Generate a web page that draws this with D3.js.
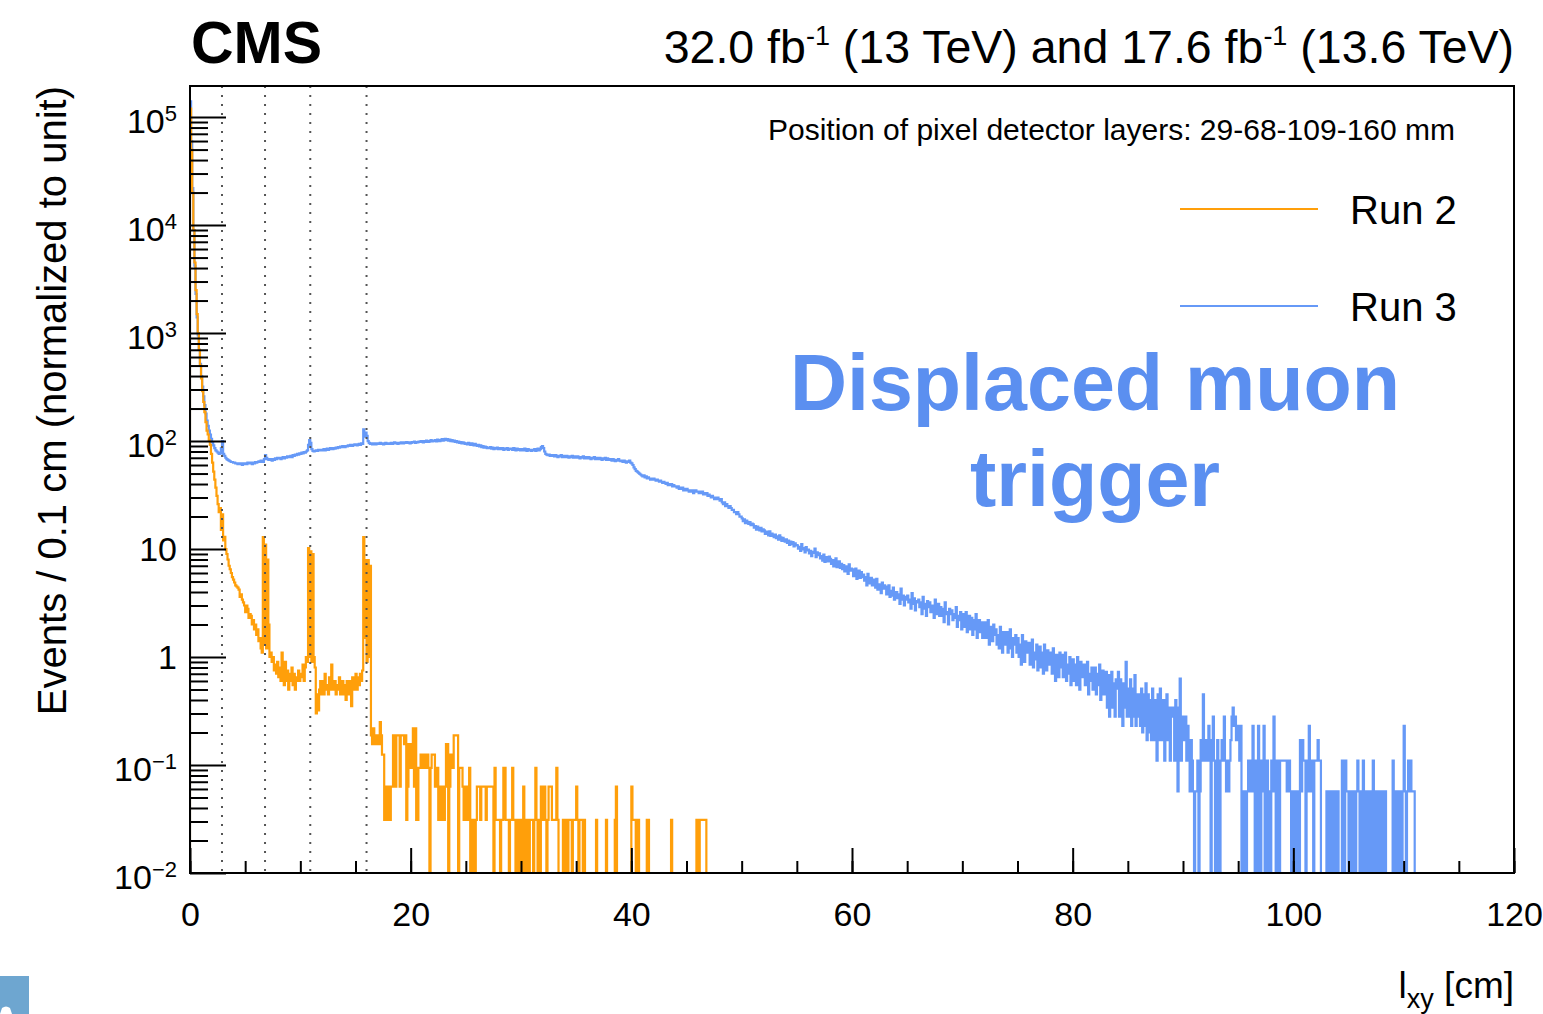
<html>
<head>
<meta charset="utf-8">
<script src="https://cdnjs.cloudflare.com/ajax/libs/d3/7.8.5/d3.min.js"></script>
<style>
    body { margin: 0; background: #fff; }
    text { font-family: "Liberation Sans", Arial, Helvetica, sans-serif; }
</style>
</head>
<body>
<svg width="1543" height="1014"></svg>
<script>
// histogram contents, 0.1 cm bins starting at 0 cm
const binWidth = 0.1;

const run2Values = [
    120000,50000,20000,9000,4500,2500,1500,1000,700,500,
    380,290,230,185,150,125,115,102,92,76,
    63,52,44,37,31,26,22,24,15,21,
    12,13,10,9,8,7,6.5,6,5.5,5.2,
    4.9,4.6,4.5,4.4,4.2,3.6,3.8,3.4,3.2,3.0,
    2.6,3.0,2.8,2.3,2.5,2.4,2.0,2.2,1.8,2.0,
    1.6,1.8,1.4,1.5,1.2,1.1,12.9,1.3,11,1.2,
    8,2,1,1.1,0.9,1,0.75,0.85,0.7,0.9,
    0.65,0.8,0.6,1.1,0.7,0.55,0.9,0.6,0.75,0.5,
    0.7,0.6,0.8,0.55,0.7,0.5,0.65,0.6,0.75,0.6,
    0.7,0.65,0.85,0.6,0.8,1,0.9,10.2,1,9.5,
    0.9,9,1,0.8,0.3,0.45,0.32,0.5,0.6,0.45,
    0.6,0.45,0.7,0.5,0.55,0.45,0.65,0.5,0.85,0.55,
    0.5,0.6,0.45,0.55,0.5,0.65,0.45,0.5,0.6,0.45,
    0.55,0.4,0.6,0.5,0.45,0.6,0.35,0.65,0.5,0.6,
    0.7,0.5,0.65,0.55,0.7,0.6,0.75,12.9,1.5,7.9,
    0.9,7.9,1,7,.188,.156,.219,.156,.188,.156,
    .188,.156,.25,.188,.125,.125,.031,.063,.031,.063,
    .063,.031,.063,.063,.188,.188,.063,.188,.188,.188,
    .063,.188,.188,.188,.156,.188,.031,.063,.156,.156,
    .094,.156,.219,.063,.219,.031,.031,.094,.094,.125,
    .125,.094,.125,.094,.094,.125,.094,0,.094,.125,
    .125,.125,.063,.063,.094,.031,.063,.063,.031,.063,
    .031,.063,.156,.156,0,.063,.125,.125,.094,.188,
    .188,.188,.188,0,.094,.094,.094,.063,.031,.063,
    .031,.063,.031,.094,0,.031,0,.031,0,.031,
    .063,.063,.063,.031,.063,.063,.063,.063,.031,.063,
    .063,.063,.063,.063,.063,0,.094,.031,.031,.031,
    .031,0,.031,.031,.094,.094,.031,.031,.031,0,
    .031,.031,.094,.031,.031,0,.031,.031,0,.031,
    0,0,.063,.031,0,.031,.031,0,.031,.031,
    .031,0,.031,.094,.031,0,.031,0,.063,.031,
    .063,.063,.031,0,.031,.063,.063,.063,.031,.031,
    .031,.031,.094,.031,0,0,0,0,.031,0,
    .031,.031,0,.031,.031,.031,0,.031,.031,.031,
    .063,.031,0,.031,.031,.031,0,.031,0,0,
    0,0,0,0,0,0,0,0,.031,0,
    0,0,0,0,0,0,0,.031,0,0,
    0,0,0,0,0,.031,.063,0,0,0,
    0,0,0,0,0,0,0,0,0,0,
    .063,.031,.031,.031,0,.031,.031,0,0,0,
    0,0,0,0,.031,.031,0,0,0,0,
    0,0,0,0,0,0,0,0,0,0,
    0,0,0,0,0,0,.031,0,0,0,
    0,0,0,0,0,0,0,0,0,0,
    0,0,0,0,0,0,0,0,0,.031,
    .031,0,.031,.031,.031,.031,.031,.031,0,0
];

const run3Values = [
    140000,60000,22000,9000,4200,2300,1400,950,700,520,
    400,320,260,215,180,155,138,125,115,105,
    97,91,86,82,80,78,76,77,86,100,
    76,73,70,68,67,66,65,64,64,63,
    63,62,62,61,62,61,62,60,62,61,
    62,61,63,62,62,63,61,63,62,64,
    63,64,65,64,66,65,64,68,74,70,
    68,67,67,68,66,68,67,69,68,70,
    69,70,68,70,71,69,71,70,72,71,
    72,73,71,74,73,75,74,76,75,77,
    76,78,77,79,78,80,82,92,102,96,
    84,81,80,81,82,81,83,82,83,82,
    83,84,82,84,85,83,84,86,85,84,
    86,85,87,86,88,87,89,88,90,89,
    88,90,89,91,90,92,91,90,92,93,
    92,91,93,94,92,95,94,128,110,120,
    112,100,96,94,95,93,94,95,93,94,
    95,94,96,95,94,93,95,96,94,95,
    94,95,96,94,95,97,95,96,94,96,
    95,97,96,95,97,96,98,96,97,95,
    96,98,97,99,96,98,97,99,98,100,
    99,97,100,98,101,99,98,100,102,99,
    101,100,102,99,103,101,100,102,104,101,
    103,105,102,104,101,103,100,102,99,101,
    98,100,97,99,96,98,95,97,96,94,
    95,93,96,94,92,95,93,91,94,92,
    90,92,89,91,88,90,87,89,88,86,
    87,86,88,85,87,84,86,85,87,84,
    85,86,84,86,83,85,84,86,83,85,
    84,85,83,86,84,82,85,83,84,82,
    83,84,82,85,83,81,84,82,83,81,
    83,82,84,81,83,85,82,84,88,90,
    86,80,76,75,74,75,73,74,73,74,
    72,74,73,71,73,72,74,71,73,72,
    71,73,72,70,72,71,73,70,72,71,
    70,72,71,69,71,70,72,69,71,70,
    69,71,70,68,70,69,71,68,70,69,
    68,70,69,67,69,68,70,67,69,68,
    67,68,66,68,67,65,67,66,68,66,
    65,66,64,66,65,63,65,64,66,63,
    62,60,57,55,53,52,51,50,49,48,
    47,48,46,47,45,46,45,44,45,44,
    45,44,43,44,43,42,43,42,41,42,
    41,40,41,39,40,39,40,38,39,38,
    38,37,38,36,37,36,37,35,36,35,
    36,35,34,35,34,35,33,34,35,34,
    34,33,34,33,34,32,33,32,33,31,
    32,31,30,31,30,29,30,29,30,29,
    28,29,27,26,27,25,26,25,24,25,
    24,23,23,22,22,21,22,21,20,20,
    19.2,18.1,18.8,17.4,18.3,17.9,17.1,17.8,16.6,17.2,
    16.9,15.8,16.3,15.1,16.1,15.6,14.9,15.7,14.6,15.2,
    14.9,13.8,14.5,14.1,13.4,14.6,13.2,13.9,13.5,12.9,
    13.6,12.6,13.1,12.2,13.4,12.8,11.9,12.7,12.3,11.7,
    12.3,11.4,12,10.9,11.7,11.1,11.6,10.6,11.3,10.9,
    10.8,10.1,10.5,9.6,11.1,9.9,10.2,9.3,10.4,9.7,
    9.9,9.1,9.6,8.6,9.4,9.2,10.1,8.4,9.3,8.8,
    9.1,8.2,8.6,7.8,8.9,7.6,8.4,8.1,7.7,8.5,
    8.1,7.3,7.9,6.9,7.6,8.2,6.8,7.4,7.7,6.7,
    7.3,6.5,7.1,6.2,6.9,6.6,5.9,7.2,6.3,6.6,
    6.5,5.6,6.2,6.6,5.3,5.9,6.3,5.4,6.1,5.5,
    5.8,5.1,5.5,4.6,5.9,5.2,4.8,5.4,4.6,5.2,
    5,4.4,5.3,4.2,4.7,4.5,3.9,4.9,4.3,4.6,
    4.5,3.8,4.3,4.6,3.6,4.1,3.7,4.4,3.4,4,
    4,3.5,3.8,3.1,4.3,3.4,3.7,3,3.6,3.4,
    3.7,3.2,3.4,2.8,3.9,3.1,3.5,2.7,3.3,3.2,
    3.4,2.9,3.2,2.5,3.6,2.8,3.1,2.4,3.3,2.9,
    3.2,2.6,3,2.8,2.3,3.4,2.5,2.9,3.1,2.4,
    2.9,2.4,2.8,2.1,3.2,2.5,2.6,2,2.8,2.5,
    2.7,2.2,2.5,2.3,2.9,1.9,2.4,2.2,2.6,1.8,
    2.5,1.9,2.1,2.6,1.7,2.2,2.4,1.8,2.3,1.6,
    2.2,1.8,2.5,1.5,2,2.2,1.7,2.1,1.5,1.9,
    2.1,1.5,1.8,2.2,1.3,1.7,1.9,1.4,2,1.6,
    1.8,1.3,1.6,1.2,1.9,1.5,1.1,1.7,1.4,1.3,
    1.7,1.1,1.4,1.8,1.2,1,1.5,1.3,1.6,1.1,
    1.5,1,1.3,0.85,1.6,1.2,0.9,1.4,1.1,1.3,
    1.35,0.85,1.2,1.45,0.8,1.1,0.95,1.3,0.75,1.15,
    1.25,0.8,1.1,0.7,1.3,0.95,0.75,1.15,0.85,1.05,
    1.1,0.7,1.2,0.8,0.6,1.05,0.9,0.65,1.1,0.8,
    1.05,0.65,0.9,1.1,0.6,0.85,0.7,1,0.55,0.85,
    0.95,0.6,0.85,0.55,1,0.7,0.5,0.9,0.65,0.8,
    0.85,0.55,0.75,0.9,0.45,0.7,0.6,0.8,0.5,0.75,
    0.8,0.45,0.7,0.55,0.85,0.4,0.65,0.75,0.45,0.6,
    0.73,0.34,0.68,0.28,0.62,0.73,0.34,0.57,0.28,0.62,
    0.51,0.73,0.28,0.62,0.34,0.23,0.57,0.34,0.9,0.28,
    0.51,0.28,0.62,0.23,0.51,0.28,0.68,0.23,0.45,0.28,
    0.45,0.23,0.51,0.2,0.45,0.23,0.57,0.17,0.45,0.2,
    0.4,0.17,0.51,0.17,0.4,0.2,0.11,0.45,0.17,0.51,
    0.34,0.17,0.4,0.11,0.34,0.45,0.17,0.34,0.11,0.34,
    0.28,0.34,0.11,0.4,0.17,0.057,0.34,0.63,0.11,0.28,
    0.23,0.17,0.28,0.11,0.23,0.17,0.057,0.17,0.11,0.057,
    0,0.057,0.057,0.11,0,0.057,0.17,0.11,0.45,0.17,
    0.11,0.17,0.11,0.23,0.17,0,0.11,0.28,0.11,0,
    0,0.17,0.11,0,0.11,0.17,0.11,0.28,0.11,0.057,
    0.11,0.057,0.11,0.17,0.28,0.34,0.23,0.28,0.17,0.23,
    0.17,0.11,0.23,0,0.057,0,0.057,0,0.057,0.11,
    0.057,0.11,0.057,0.23,0.057,0,0.11,0,0.23,0.057,
    0,0.11,0.057,0.23,0,0.057,0.11,0,0.057,0,
    0.11,0.057,0.28,0.11,0,0.11,0.11,0,0.11,0.11,
    0.11,0.11,0.11,0.11,0.057,0.11,0.11,0.057,0,0.057,
    0,0.057,0,0.057,0.057,0,0.17,0.057,0.17,0.11,
    0.11,0,0.11,0.057,0.23,0.11,0.057,0.11,0,0.11,
    0.11,0.11,0.17,0.11,0.11,0,0,0,0,0,
    0.057,0,0.057,0,0.057,0.057,0,0.057,0,0.057,
    0.057,0,0,0,0.11,0.057,0,0.11,0.057,0.057,
    0,0.057,0.057,0,0.057,0.057,0,0.057,0.11,0.057,
    0,0.057,0,0.11,0.057,0,0.057,0.057,0,0.057,
    0.057,0,0.11,0.057,0,0.057,0,0.057,0.057,0,
    0.057,0,0.057,0.057,0,0,0,0,0,0,
    0.11,0.057,0,0.057,0.057,0,0.057,0.057,0,0.057,
    0.23,0.057,0,0.057,0.11,0.057,0.11,0.057,0.057,0.057
];

// pixel detector layer radii in cm
const layerPositions = [2.9, 6.8, 10.9, 16.0];

const xTickValues = [0, 20, 40, 60, 80, 100, 120];
const xTickLabels = ["0", "20", "40", "60", "80", "100", "120"];
const yTickValues = [1e-2, 1e-1, 1, 10, 1e2, 1e3, 1e4, 1e5];
const yTickBases = ["10", "10", "1", "10", "10", "10", "10", "10"];
const yTickExps = ["\u22122", "\u22121", "", "", "2", "3", "4", "5"];

const orange = "#ff9f0a";
const blue = "#6699f7";

const svg = d3.select("svg");

const plotL = 190, plotR = 1514, plotT = 86, plotB = 873;

const x = d3.scaleLinear().domain([0, 120]).range([plotL, plotR]);
const y = d3.scaleLog().domain([0.01, 1.94e5]).range([plotB, plotT]);

svg.append("rect").attr("width", 1543).attr("height", 1014).attr("fill", "white");

svg.append("clipPath").attr("id", "plotclip")
    .append("rect")
    .attr("x", plotL).attr("y", plotT)
    .attr("width", plotR - plotL).attr("height", plotB - plotT);

const yv = (v) => v > 0 ? y(v) : plotB + 6;

const histPath = (values) => {
    let p = d3.path();
    p.moveTo(x(0), plotB + 6);
    values.forEach((v, i) => {
        p.lineTo(x(i * binWidth), yv(v));
        p.lineTo(x((i + 1) * binWidth), yv(v));
    });
    p.lineTo(x(values.length * binWidth), plotB + 6);
    return p.toString();
};

let plot = svg.append("g").attr("clip-path", "url(#plotclip)");

plot.append("path")
    .attr("d", histPath(run3Values))
    .attr("fill", "none")
    .attr("stroke", blue)
    .attr("stroke-width", 2.2);

plot.append("path")
    .attr("d", histPath(run2Values))
    .attr("fill", "none")
    .attr("stroke", orange)
    .attr("stroke-width", 2.2);

// dotted lines for the pixel layers
plot.selectAll(".layer")
    .data(layerPositions)
    .join("line")
    .attr("class", "layer")
    .attr("x1", d => x(d)).attr("x2", d => x(d))
    .attr("y1", plotT).attr("y2", plotB)
    .attr("stroke", "#555")
    .attr("stroke-width", 2)
    .attr("stroke-dasharray", "2,7");

// axes
let yMinor = [];
for (let e = -2; e < 5; e++) {
    for (let k = 2; k <= 9; k++) yMinor.push(k * Math.pow(10, e));
}

let gy = svg.append("g").attr("transform", `translate(${plotL},0)`);
gy.call(d3.axisLeft(y).tickValues(yTickValues).tickSize(-36).tickFormat(""));
gy.call(g => g.select(".domain").remove());
let gy2 = svg.append("g").attr("transform", `translate(${plotL},0)`);
gy2.call(d3.axisLeft(y).tickValues(yMinor).tickSize(-18).tickFormat(""));
gy2.call(g => g.select(".domain").remove());

let gx = svg.append("g").attr("transform", `translate(0,${plotB})`);
gx.call(d3.axisBottom(x).tickValues(xTickValues).tickSize(-25).tickPadding(29)
    .tickFormat((d, i) => xTickLabels[i]));
gx.call(g => g.select(".domain").remove());
gx.selectAll("text")
    .attr("font-size", 34)
    .attr("font-family", "Liberation Sans, Arial, sans-serif")
    .attr("fill", "black");
let gx2 = svg.append("g").attr("transform", `translate(0,${plotB})`);
gx2.call(d3.axisBottom(x).tickValues(d3.range(0, 121, 5)).tickSize(-12).tickFormat(""));
gx2.call(g => g.select(".domain").remove());

svg.selectAll(".tick line").attr("stroke", "black").attr("stroke-width", 2);

// y tick labels with exponents
yTickValues.forEach((v, i) => {
    let t = svg.append("text")
        .attr("x", 177)
        .attr("y", y(v) + (yTickExps[i] ? 16 : 12))
        .attr("text-anchor", "end")
        .attr("font-size", 34)
        .attr("fill", "black");
    t.append("tspan").text(yTickBases[i]);
    if (yTickExps[i]) {
        t.append("tspan")
            .attr("dy", -12)
            .attr("font-size", 22)
            .text(yTickExps[i]);
    }
});

// frame
svg.append("rect")
    .attr("x", plotL).attr("y", plotT)
    .attr("width", plotR - plotL).attr("height", plotB - plotT)
    .attr("fill", "none")
    .attr("stroke", "black")
    .attr("stroke-width", 2);

// titles
svg.append("text")
    .attr("x", 191).attr("y", 63)
    .attr("font-size", 59)
    .attr("font-weight", "bold")
    .text("CMS");

let lumi = svg.append("text")
    .attr("x", plotR).attr("y", 63)
    .attr("text-anchor", "end")
    .attr("font-size", 46.5);
lumi.append("tspan").text("32.0 fb");
lumi.append("tspan").attr("dy", -18).attr("font-size", 27).text("-1");
lumi.append("tspan").attr("dy", 18).text(" (13 TeV) and 17.6 fb");
lumi.append("tspan").attr("dy", -18).attr("font-size", 27).text("-1");
lumi.append("tspan").attr("dy", 18).text(" (13.6 TeV)");

svg.append("text")
    .attr("x", 1455).attr("y", 140)
    .attr("text-anchor", "end")
    .attr("font-size", 30)
    .text("Position of pixel detector layers: 29-68-109-160 mm");

// legend
const legendNames = ["Run 2", "Run 3"];
const legendColors = [orange, blue];
legendNames.forEach((name, i) => {
    let ly = 209 + i * 97;
    svg.append("line")
        .attr("x1", 1180).attr("x2", 1318)
        .attr("y1", ly).attr("y2", ly)
        .attr("stroke", legendColors[i])
        .attr("stroke-width", 2);
    svg.append("text")
        .attr("x", 1350).attr("y", ly + 15)
        .attr("font-size", 40)
        .text(name);
});

svg.append("text")
    .attr("x", 1095).attr("y", 410)
    .attr("text-anchor", "middle")
    .attr("font-size", 79)
    .attr("font-weight", "bold")
    .attr("fill", "#5b8ff0")
    .text("Displaced muon");
svg.append("text")
    .attr("x", 1095).attr("y", 506)
    .attr("text-anchor", "middle")
    .attr("font-size", 79)
    .attr("font-weight", "bold")
    .attr("fill", "#5b8ff0")
    .text("trigger");

// axis titles
svg.append("text")
    .attr("transform", `translate(66,${plotT}) rotate(-90)`)
    .attr("text-anchor", "end")
    .attr("font-size", 40)
    .text("Events / 0.1 cm (normalized to unit)");

let xt = svg.append("text")
    .attr("x", plotR).attr("y", 998)
    .attr("text-anchor", "end")
    .attr("font-size", 37);
xt.append("tspan").text("l");
xt.append("tspan").attr("dy", 10).attr("font-size", 27).text("xy");
xt.append("tspan").attr("dy", -10).text(" [cm]");

// corner mark at the bottom left
svg.append("rect")
    .attr("x", 0).attr("y", 976)
    .attr("width", 29).attr("height", 38)
    .attr("fill", "#6ea6d0");
svg.append("path")
    .attr("d", "M0,1014 L2,1008 Q6,1005 10,1008 L12,1014 Z")
    .attr("fill", "white");
</script>
</body>
</html>
